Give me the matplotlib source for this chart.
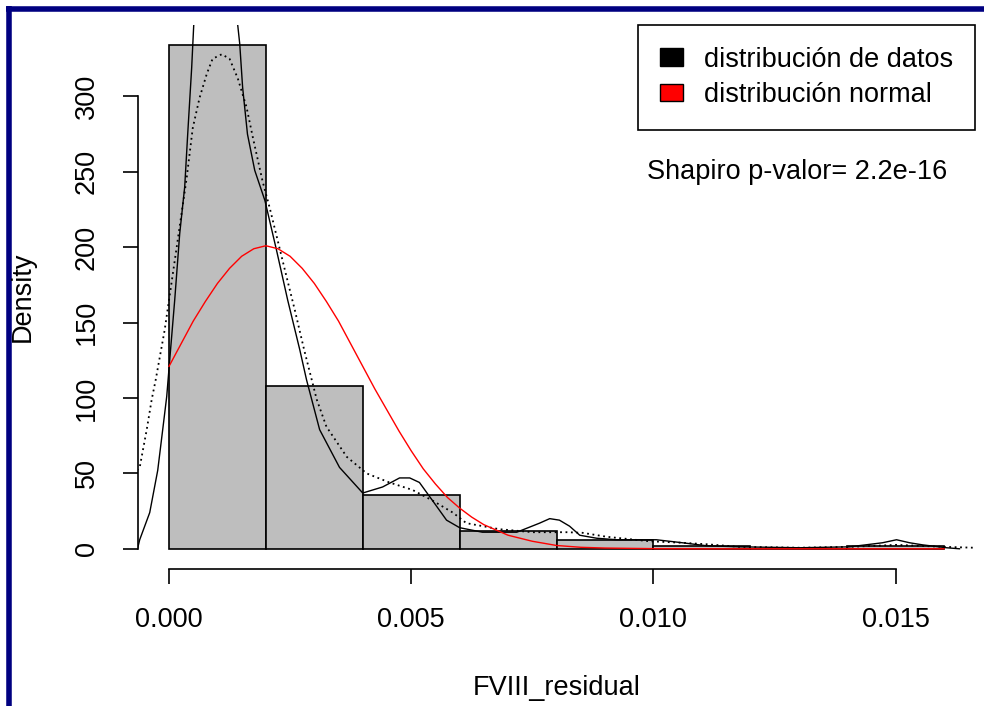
import matplotlib
matplotlib.use("Agg")
import matplotlib.pyplot as plt
from matplotlib.patches import Patch
from matplotlib.lines import Line2D

plt.rcParams['font.family'] = ['Liberation Sans', 'DejaVu Sans']

# Histogram of FVIII_residual (density scale)
bin_edges = [0.000, 0.002, 0.004, 0.006, 0.008, 0.010, 0.012, 0.014, 0.016]
bin_density = [334, 108, 36, 12, 6, 2, 0, 2]

# Kernel density (solid line)
kde_solid_x = [-0.00065, -0.000605, -0.000398, -0.000233, -0.00013, -0.000047, 0.000014,
               0.000118, 0.000221, 0.000324, 0.000386, 0.000468, 0.00051, 0.00065, 0.00095,
               0.00125, 0.00142, 0.00146, 0.00152, 0.00162, 0.00177, 0.00198, 0.00222,
               0.00245, 0.0027, 0.00284, 0.00311, 0.00352, 0.004, 0.00441, 0.00476, 0.00497,
               0.00517, 0.00544, 0.00573, 0.006, 0.00647, 0.00718, 0.00765, 0.00786, 0.00806,
               0.00827, 0.00848, 0.00883, 0.00924, 0.01006, 0.0106, 0.0111, 0.01178, 0.01302,
               0.01405, 0.01473, 0.01502, 0.01529, 0.01556, 0.01605, 0.01632]
kde_solid_y = [0, 6, 24, 52, 79, 101, 125,
               165, 209, 240, 275, 319, 347, 380, 395,
               380, 347, 335, 306, 275, 251, 231, 198,
               165, 132, 112, 79, 54, 37, 41, 47, 47,
               44, 32, 19, 14, 11, 11, 17, 20, 19,
               15, 9, 7, 6, 6, 4, 2, 1.3, 0.7,
               1.3, 4, 6, 4, 2.6, 0.7, 0]

# Kernel density (dotted line, wider bandwidth)
kde_dot_x = [-0.00066, -0.000605, -0.00046, -0.000357, -0.000275, -0.00009, 0.000118,
             0.000365, 0.00049, 0.00063, 0.00078, 0.0009, 0.00109, 0.00125, 0.00142,
             0.0016, 0.00173, 0.00193, 0.00208, 0.00243, 0.0026, 0.00279, 0.00305,
             0.00325, 0.00367, 0.00408, 0.00455, 0.00503, 0.00544, 0.00586, 0.00614,
             0.00682, 0.00751, 0.00821, 0.00854, 0.00903, 0.00992, 0.0106, 0.0111,
             0.01178, 0.01302, 0.01405, 0.01502, 0.016, 0.01663]
kde_dot_y = [52, 54, 79, 99, 112, 145, 191,
             246, 279, 299, 315, 325, 328, 325, 312,
             293, 273, 244, 226, 180, 158, 132, 99,
             81, 61, 50, 44, 39, 32, 24, 17,
             13, 11, 11, 10.6, 8, 5, 4, 3,
             1.3, 0.7, 1.3, 2.6, 1.3, 0.7]

# Normal density with the sample mean and sd (red)
norm_x = [0.0, 0.00025, 0.0005, 0.00075, 0.001, 0.00125, 0.0015, 0.00175, 0.002,
          0.00225, 0.0025, 0.00275, 0.003, 0.00325, 0.0035, 0.00375, 0.004, 0.00425,
          0.0045, 0.00475, 0.005, 0.00525, 0.0055, 0.00575, 0.006, 0.00625, 0.0065,
          0.007, 0.0075, 0.008, 0.0085, 0.009, 0.010, 0.011, 0.016]
norm_y = [121, 136, 151, 164, 176, 186, 194, 199, 201,
          199, 194, 186, 176, 164, 151, 136, 121, 106,
          92, 78, 65, 53, 43, 34, 27, 21, 16,
          9, 5, 2.2, 1.0, 0.5, 0.1, 0, 0]

legend_labels = ['distribución de datos', 'distribución normal']
legend_colors = ['black', 'red']

fs = 19.5
fig = plt.figure(figsize=(9.84, 7.06), dpi=100)
ax = fig.add_axes([138 / 984, 1 - 569 / 706, (975 - 138) / 984, (569 - 25) / 706])

widths = [bin_edges[i + 1] - bin_edges[i] for i in range(len(bin_density))]
ax.bar(bin_edges[:-1], bin_density, width=widths, align='edge',
       color='#BEBEBE', edgecolor='black', linewidth=1.2)
ax.plot(kde_solid_x, kde_solid_y, color='black', lw=1.0)
ax.plot(kde_dot_x, kde_dot_y, color='black', lw=1.3, linestyle=(0, (1, 2)))
ax.plot(norm_x, norm_y, color='red', lw=1.0)

ax.set_xlim(-0.00064, 0.01664)
ax.set_ylim(-13.4, 347.4)

for s in ['top', 'right']:
    ax.spines[s].set_visible(False)
ax.spines['left'].set_bounds(0, 300)
ax.spines['bottom'].set_bounds(0, 0.015)
for s in ['left', 'bottom']:
    ax.spines[s].set_linewidth(1.2)

ax.set_xticks([0.000, 0.005, 0.010, 0.015])
ax.set_xticklabels(['0.000', '0.005', '0.010', '0.015'])
ax.set_yticks([0, 50, 100, 150, 200, 250, 300])
ax.set_yticklabels(['0', '50', '100', '150', '200', '250', '300'], rotation=90, va='center')
ax.tick_params(axis='both', length=11, width=1.2, labelsize=fs, pad=16.5)

fig.text(557 / 984, 1 - 688 / 706, 'FVIII_residual', fontsize=fs, ha='center', va='center')
fig.text(23 / 984, 1 - 297 / 706, 'Density', fontsize=fs, ha='center', va='center', rotation=90)

handles = [Patch(facecolor=c, edgecolor='black', linewidth=1.0) for c in legend_colors]
leg = ax.legend(handles, legend_labels, loc='upper right', fontsize=fs, borderaxespad=0,
                fancybox=False, framealpha=1, edgecolor='black', borderpad=0.8,
                handlelength=0.85, handleheight=0.63, handletextpad=0.8, labelspacing=0.35)
leg.get_frame().set_linewidth(1.2)

ax.text(0.787, 0.730, 'Shapiro p-valor= 2.2e-16', transform=ax.transAxes,
        fontsize=fs, ha='center', va='center')

# navy frame on the left and top edges
fig.add_artist(Line2D([8.5 / 984, 8.5 / 984], [0, 1 - 6 / 706], color='#000080', lw=4, solid_capstyle='butt'))
fig.add_artist(Line2D([6 / 984, 1], [1 - 8.5 / 706, 1 - 8.5 / 706], color='#000080', lw=4, solid_capstyle='butt'))

fig.savefig('out.png', dpi=100)
